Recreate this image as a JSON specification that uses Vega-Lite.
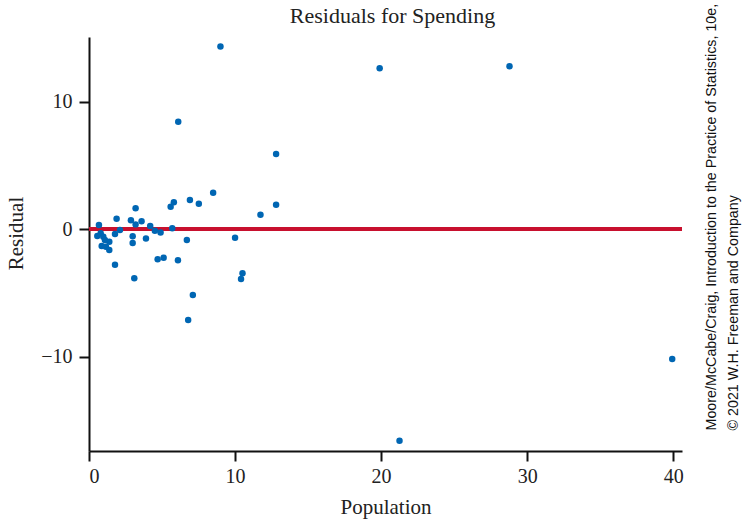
{
  "$schema": "https://vega.github.io/schema/vega-lite/v6.json",
  "width": 593,
  "height": 414,
  "autosize": "none",
  "padding": {"left": 89, "top": 37, "right": 63, "bottom": 74},
  "background": "white",
  "title": {
    "text": "Residuals for Spending",
    "font": "Liberation Serif",
    "fontSize": 22,
    "fontWeight": "normal",
    "color": "#222222",
    "frame": "group",
    "dx": 7,
    "offset": -25
  },
  "config": {
    "view": {"stroke": null},
    "axis": {
      "grid": false,
      "domainColor": "#111111",
      "domainWidth": 2,
      "tickColor": "#111111",
      "tickWidth": 2,
      "tickSize": 10,
      "labelFont": "Liberation Serif",
      "labelFontSize": 20,
      "labelColor": "#222222",
      "titleFont": "Liberation Serif",
      "titleFontSize": 21,
      "titleFontWeight": "normal",
      "titleColor": "#222222"
    }
  },
  "data": {
    "values": [
      {"Population": 0.68, "Residual": 0.34},
      {"Population": 0.57, "Residual": -0.53},
      {"Population": 0.80, "Residual": -0.31},
      {"Population": 0.98, "Residual": -0.58},
      {"Population": 1.09, "Residual": -0.84},
      {"Population": 1.39, "Residual": -0.97},
      {"Population": 0.87, "Residual": -1.31},
      {"Population": 1.16, "Residual": -1.37},
      {"Population": 1.39, "Residual": -1.62},
      {"Population": 1.78, "Residual": -0.37},
      {"Population": 1.89, "Residual": 0.83},
      {"Population": 2.12, "Residual": -0.05},
      {"Population": 1.78, "Residual": -2.78},
      {"Population": 3.19, "Residual": 1.65},
      {"Population": 2.87, "Residual": 0.71},
      {"Population": 3.19, "Residual": 0.39},
      {"Population": 3.60, "Residual": 0.63},
      {"Population": 2.99, "Residual": -0.55},
      {"Population": 2.99, "Residual": -1.07},
      {"Population": 3.90, "Residual": -0.71},
      {"Population": 3.10, "Residual": -3.84},
      {"Population": 4.19, "Residual": 0.26},
      {"Population": 4.51, "Residual": -0.11},
      {"Population": 4.90, "Residual": -0.24},
      {"Population": 4.70, "Residual": -2.35},
      {"Population": 5.11, "Residual": -2.23},
      {"Population": 5.59, "Residual": 1.77},
      {"Population": 5.81, "Residual": 2.12},
      {"Population": 5.70, "Residual": 0.08},
      {"Population": 6.91, "Residual": 2.30},
      {"Population": 7.52, "Residual": 2.01},
      {"Population": 8.50, "Residual": 2.87},
      {"Population": 6.70, "Residual": -0.84},
      {"Population": 6.09, "Residual": -2.43},
      {"Population": 7.11, "Residual": -5.15},
      {"Population": 6.79, "Residual": -7.11},
      {"Population": 10.0, "Residual": -0.66},
      {"Population": 10.51, "Residual": -3.45},
      {"Population": 10.41, "Residual": -3.90},
      {"Population": 11.74, "Residual": 1.15},
      {"Population": 9.0, "Residual": 14.35},
      {"Population": 6.11, "Residual": 8.44},
      {"Population": 12.81, "Residual": 5.91},
      {"Population": 12.81, "Residual": 1.93},
      {"Population": 19.9, "Residual": 12.65},
      {"Population": 28.79, "Residual": 12.8},
      {"Population": 39.93, "Residual": -10.17},
      {"Population": 21.26, "Residual": -16.6}
    ]
  },
  "layer": [
    {
      "mark": {"type": "rule", "color": "#c8102e", "strokeWidth": 3.5},
      "encoding": {
        "y": {
          "datum": 0,
          "type": "quantitative",
          "scale": {"domain": [-17.4, 15.1], "nice": false, "zero": false},
          "axis": {
            "orient": "right",
            "labels": false,
            "ticks": false,
            "domain": false,
            "title": ["Moore/McCabe/Craig, Introduction to the Practice of Statistics, 10e,", "© 2021  W.H. Freeman and Company"],
            "titleFont": "Liberation Sans",
            "titleFontSize": 14.3,
            "titleColor": "#111111",
            "titleAngle": 270,
            "titleAlign": "left",
            "titleBaseline": "top",
            "titleLineHeight": 22,
            "titleX": 22,
            "titleY": 393
          }
        }
      }
    },
    {
      "mark": {"type": "circle", "size": 42, "color": "#0066b3", "opacity": 1},
      "encoding": {
        "x": {
          "field": "Population",
          "type": "quantitative",
          "scale": {"domain": [0, 40.6], "nice": false, "zero": false},
          "axis": {"values": [0, 10, 20, 30, 40], "labelPadding": 5, "titlePadding": 10, "title": "Population"}
        },
        "y": {
          "field": "Residual",
          "type": "quantitative",
          "scale": {"domain": [-17.4, 15.1], "nice": false, "zero": false},
          "axis": {"values": [-10, 0, 10], "labelPadding": 7, "titlePadding": 14, "titleY": 196, "title": "Residual"}
        }
      }
    }
  ],
  "resolve": {"axis": {"y": "independent"}}
}
